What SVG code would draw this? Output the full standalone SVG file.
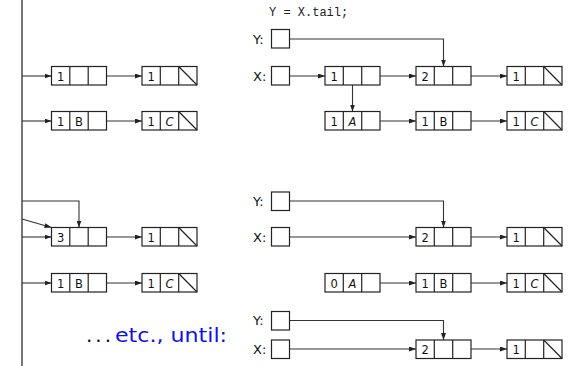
<svg xmlns="http://www.w3.org/2000/svg" xmlns:xlink="http://www.w3.org/1999/xlink" width="570" height="366" viewBox="0 0 570 366">
  <style>
    .box { fill: #fff; stroke: #222; stroke-width: 1.2; }
    .div { stroke: #222; stroke-width: 1.2; }
    .wire { fill: none; stroke: #333; stroke-width: 1.1; }
    .spine { fill: none; stroke: #555; stroke-width: 1.6; }
    .val { font-family: "DejaVu Sans", sans-serif; font-size: 11.5px; fill: #111; text-anchor: middle; }
    .sym { font-style: italic; }
    .var { font-family: "DejaVu Sans", sans-serif; font-size: 13px; fill: #111; }
    .code { font-family: "Liberation Mono", monospace; font-size: 12px; fill: #222; }
    .note { font-family: "DejaVu Sans", sans-serif; font-size: 20px; }
  </style>
  <defs>
    <marker id="arr" markerUnits="userSpaceOnUse" markerWidth="7" markerHeight="5" refX="7" refY="2.5" orient="auto">
      <path d="M0,0 L7,2.5 L0,5 z" fill="#222"/>
    </marker>
    <!-- three-field list cell: count, item, next -->
    <g id="cell">
      <rect class="box" x="0" y="0" width="55" height="18.5"/>
      <line class="div" x1="18.3" y1="0" x2="18.3" y2="18.5"/>
      <line class="div" x1="36.7" y1="0" x2="36.7" y2="18.5"/>
    </g>
    <!-- same cell with a null next pointer -->
    <g id="cellNil">
      <use xlink:href="#cell"/>
      <line class="div" x1="36.7" y1="0" x2="55" y2="18.5"/>
    </g>
    <rect id="ptr" class="box" x="0" y="0" width="18" height="18.5"/>
  </defs>

  <!-- pointer wiring -->
  <g id="connectors">
    <line class="spine" x1="22" y1="0" x2="22" y2="366"/>
    <!-- left column -->
    <line class="wire" x1="22" y1="76" x2="51.5" y2="76" marker-end="url(#arr)"/>
    <line class="wire" x1="106.5" y1="76" x2="142" y2="76" marker-end="url(#arr)"/>
    <line class="wire" x1="22" y1="121" x2="51.5" y2="121" marker-end="url(#arr)"/>
    <line class="wire" x1="106.5" y1="121" x2="142" y2="121" marker-end="url(#arr)"/>
    <polyline class="wire" points="22,201 79,201 79,227.5" marker-end="url(#arr)"/>
    <line class="wire" x1="22" y1="219" x2="51.5" y2="227.5" marker-end="url(#arr)"/>
    <line class="wire" x1="22" y1="237" x2="51.5" y2="237" marker-end="url(#arr)"/>
    <line class="wire" x1="106.5" y1="237" x2="142" y2="237" marker-end="url(#arr)"/>
    <line class="wire" x1="22" y1="283" x2="51.5" y2="283" marker-end="url(#arr)"/>
    <line class="wire" x1="106.5" y1="283" x2="142" y2="283" marker-end="url(#arr)"/>
    <!-- right, first state -->
    <polyline class="wire" points="289.5,39 443.5,39 443.5,66.5" marker-end="url(#arr)"/>
    <line class="wire" x1="289.5" y1="76" x2="325" y2="76" marker-end="url(#arr)"/>
    <line class="wire" x1="380" y1="76" x2="416" y2="76" marker-end="url(#arr)"/>
    <line class="wire" x1="471" y1="76" x2="507" y2="76" marker-end="url(#arr)"/>
    <line class="wire" x1="352.5" y1="76" x2="352.5" y2="111.5" marker-end="url(#arr)"/>
    <line class="wire" x1="380" y1="121" x2="416" y2="121" marker-end="url(#arr)"/>
    <line class="wire" x1="471" y1="121" x2="507" y2="121" marker-end="url(#arr)"/>
    <!-- right, second state -->
    <polyline class="wire" points="289.5,201 443.5,201 443.5,227.5" marker-end="url(#arr)"/>
    <line class="wire" x1="289.5" y1="237" x2="416" y2="237" marker-end="url(#arr)"/>
    <line class="wire" x1="471" y1="237" x2="507" y2="237" marker-end="url(#arr)"/>
    <line class="wire" x1="380" y1="283" x2="416" y2="283" marker-end="url(#arr)"/>
    <line class="wire" x1="471" y1="283" x2="507" y2="283" marker-end="url(#arr)"/>
    <!-- right, final state -->
    <polyline class="wire" points="289.5,320.5 443.5,320.5 443.5,340" marker-end="url(#arr)"/>
    <line class="wire" x1="289.5" y1="349" x2="416" y2="349" marker-end="url(#arr)"/>
    <line class="wire" x1="471" y1="349" x2="507" y2="349" marker-end="url(#arr)"/>
  </g>

  <!-- left column cells -->
  <g id="L1a" transform="translate(51.5,66.5)"><use xlink:href="#cell"/><text class="val" x="9.2" y="14">1</text></g>
  <g id="L1b" transform="translate(142,66.5)"><use xlink:href="#cellNil"/><text class="val" x="9.2" y="14">1</text></g>
  <g id="L2a" transform="translate(51.5,111.5)"><use xlink:href="#cell"/><text class="val" x="9.2" y="14">1</text><text class="val" x="27.5" y="14">B</text></g>
  <g id="L2b" transform="translate(142,111.5)"><use xlink:href="#cellNil"/><text class="val" x="9.2" y="14">1</text><text class="val sym" x="27.5" y="14">C</text></g>
  <g id="L3a" transform="translate(51.5,227.5)"><use xlink:href="#cell"/><text class="val" x="9.2" y="14">3</text></g>
  <g id="L3b" transform="translate(142,227.5)"><use xlink:href="#cellNil"/><text class="val" x="9.2" y="14">1</text></g>
  <g id="L4a" transform="translate(51.5,273.5)"><use xlink:href="#cell"/><text class="val" x="9.2" y="14">1</text><text class="val" x="27.5" y="14">B</text></g>
  <g id="L4b" transform="translate(142,273.5)"><use xlink:href="#cellNil"/><text class="val" x="9.2" y="14">1</text><text class="val sym" x="27.5" y="14">C</text></g>

  <g id="note">
    <text class="note" x="86" y="342" fill="#111" letter-spacing="3">...</text>
    <text class="note" x="115" y="342" fill="#1010ee" textLength="112" lengthAdjust="spacingAndGlyphs">etc., until:</text>
  </g>

  <!-- right, first state -->
  <g id="stmt"><text class="code" x="269" y="16">Y = X.tail;</text></g>
  <g id="Y1"><text class="var" x="253" y="43.5">Y:</text><use xlink:href="#ptr" x="271.5" y="29.5"/></g>
  <g id="X1"><text class="var" x="253" y="80.5">X:</text><use xlink:href="#ptr" x="271.5" y="66.5"/></g>
  <g id="R1a" transform="translate(325,66.5)"><use xlink:href="#cell"/><text class="val" x="9.2" y="14">1</text></g>
  <g id="R1b" transform="translate(416,66.5)"><use xlink:href="#cell"/><text class="val" x="9.2" y="14">2</text></g>
  <g id="R1c" transform="translate(507,66.5)"><use xlink:href="#cellNil"/><text class="val" x="9.2" y="14">1</text></g>
  <g id="R1d" transform="translate(325,111.5)"><use xlink:href="#cell"/><text class="val" x="9.2" y="14">1</text><text class="val sym" x="27.5" y="14">A</text></g>
  <g id="R1e" transform="translate(416,111.5)"><use xlink:href="#cell"/><text class="val" x="9.2" y="14">1</text><text class="val" x="27.5" y="14">B</text></g>
  <g id="R1f" transform="translate(507,111.5)"><use xlink:href="#cellNil"/><text class="val" x="9.2" y="14">1</text><text class="val sym" x="27.5" y="14">C</text></g>

  <!-- right, second state -->
  <g id="Y2"><text class="var" x="253" y="205.5">Y:</text><use xlink:href="#ptr" x="271.5" y="192"/></g>
  <g id="X2"><text class="var" x="253" y="241.5">X:</text><use xlink:href="#ptr" x="271.5" y="227.5"/></g>
  <g id="R2b" transform="translate(416,227.5)"><use xlink:href="#cell"/><text class="val" x="9.2" y="14">2</text></g>
  <g id="R2c" transform="translate(507,227.5)"><use xlink:href="#cellNil"/><text class="val" x="9.2" y="14">1</text></g>
  <g id="R2d" transform="translate(325,273.5)"><use xlink:href="#cell"/><text class="val" x="9.2" y="14">0</text><text class="val sym" x="27.5" y="14">A</text></g>
  <g id="R2e" transform="translate(416,273.5)"><use xlink:href="#cell"/><text class="val" x="9.2" y="14">1</text><text class="val" x="27.5" y="14">B</text></g>
  <g id="R2f" transform="translate(507,273.5)"><use xlink:href="#cellNil"/><text class="val" x="9.2" y="14">1</text><text class="val sym" x="27.5" y="14">C</text></g>

  <!-- right, final state -->
  <g id="Y3"><text class="var" x="253" y="325">Y:</text><use xlink:href="#ptr" x="271.5" y="311.5"/></g>
  <g id="X3"><text class="var" x="253" y="353.5">X:</text><use xlink:href="#ptr" x="271.5" y="340"/></g>
  <g id="R3b" transform="translate(416,340)"><use xlink:href="#cell"/><text class="val" x="9.2" y="14">2</text></g>
  <g id="R3c" transform="translate(507,340)"><use xlink:href="#cellNil"/><text class="val" x="9.2" y="14">1</text></g>
</svg>
